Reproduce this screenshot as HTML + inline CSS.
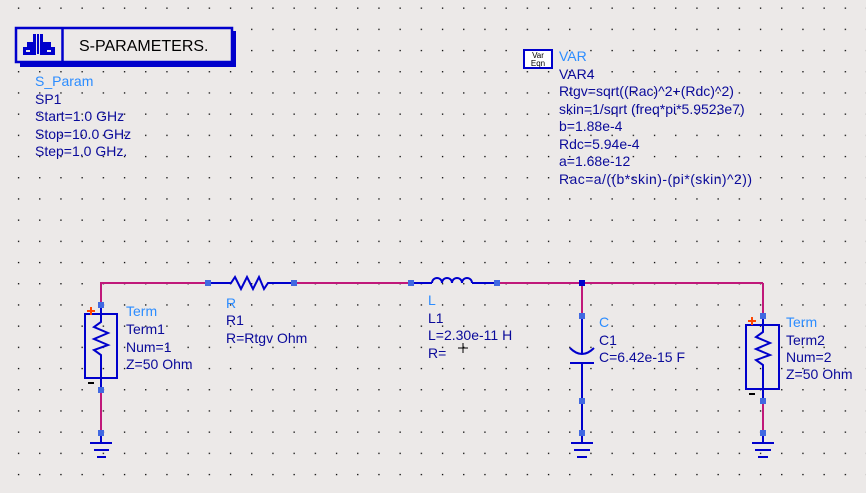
<!DOCTYPE html>
<html><head><meta charset="utf-8"><style>
html,body{margin:0;padding:0;background:#ece9e8;}
svg{display:block}
text{font-family:"Liberation Sans",Arial,sans-serif;font-size:14px;}
.d{fill:#0a0a9a}.l{fill:#2b8cff}
</style></head><body>
<svg width="866" height="493" viewBox="0 0 866 493" xmlns="http://www.w3.org/2000/svg">
<defs><pattern id="g" x="17.9" y="7.5" width="21.2" height="21.2" patternUnits="userSpaceOnUse"><rect x="0" y="0" width="1.3" height="1.3" fill="#000"/></pattern></defs>
<rect width="866" height="493" fill="#ece9e8"/>
<rect width="866" height="493" fill="url(#g)"/>

<!-- S-PARAMETERS box -->
<rect x="20" y="31" width="216" height="36" fill="#0000cc"/>
<rect x="16" y="28" width="216" height="34" fill="#ece9e8" stroke="#0000cc" stroke-width="2.5"/>
<line x1="62.5" y1="28" x2="62.5" y2="62" stroke="#0000cc" stroke-width="2.5"/>
<g fill="#0000cc">
<rect x="33" y="34" width="10" height="8"/><rect x="27" y="42" width="24" height="10"/>
<rect x="23" y="47" width="32" height="8"/>
<rect x="36" y="33" width="4" height="22" fill="#ece9e8"/>
<rect x="37" y="34" width="2" height="20"/>
<rect x="26" y="50" width="4" height="2" fill="#ece9e8"/><rect x="47" y="50" width="4" height="2" fill="#ece9e8"/>
</g>
<text x="79" y="51" style="font-size:16px" fill="#000">S-PARAMETERS.</text>
<text x="35" y="86" class="l">S_Param</text>
<text x="35" y="104" class="d">SP1</text>
<text x="35" y="121" class="d">Start=1.0 GHz</text>
<text x="35" y="139" class="d">Stop=10.0 GHz</text>
<text x="35" y="156" class="d">Step=1.0 GHz.</text>

<!-- VAR -->
<rect x="524" y="50" width="28" height="18" fill="#fff" stroke="#0000cc" stroke-width="2"/>
<text x="538" y="58" text-anchor="middle" style="font-size:8px" fill="#000">Var</text>
<text x="538" y="66" text-anchor="middle" style="font-size:8px" fill="#000">Eqn</text>
<text x="559" y="61" class="l">VAR</text>
<text x="559" y="79" class="d">VAR4</text>
<text x="559" y="96" class="d">Rtgv=sqrt((Rac)^2+(Rdc)^2)</text>
<text x="559" y="114" class="d">skin=1/sqrt (freq*pi*5.9523e7)</text>
<text x="559" y="131" class="d">b=1.88e-4</text>
<text x="559" y="149" class="d">Rdc=5.94e-4</text>
<text x="559" y="166" class="d">a=1.68e-12</text>
<text x="559" y="184" class="d" textLength="193" lengthAdjust="spacing">Rac=a/((b*skin)-(pi*(skin)^2))</text>

<!-- wires -->
<g stroke="#c0187a" stroke-width="2" fill="none">
<polyline points="101,305 101,283 208,283"/>
<line x1="294" y1="283" x2="411" y2="283"/>
<line x1="497" y1="283" x2="763" y2="283"/>
<line x1="763" y1="283" x2="763" y2="316"/>
<line x1="582" y1="283" x2="582" y2="316"/>
<line x1="101" y1="390" x2="101" y2="433"/>
<line x1="763" y1="401" x2="763" y2="433"/>
<line x1="582" y1="401" x2="582" y2="433"/>
</g>

<!-- components -->
<g stroke="#0000cc" stroke-width="2" fill="none">
<rect x="85" y="314" width="32" height="64"/>
<polyline points="101,305 101,322 94,327 108,333 94,339 108,345 94,350 101,355 101,390"/>
<line x1="90" y1="443" x2="112" y2="443"/><line x1="94" y1="450" x2="109" y2="450"/><line x1="97" y1="457" x2="106" y2="457"/>
<line x1="101" y1="433" x2="101" y2="443"/>
<polyline points="208,283 231,283 235,277 241,289 247,277 253,289 259,277 264,289 268,283 294,283"/>
<line x1="411" y1="283" x2="432" y2="283"/>
<path d="M432,283 a5,5 0 0 1 10,0 a5,5 0 0 1 10,0 a5,5 0 0 1 10,0 a5,5 0 0 1 10,0"/>
<line x1="472" y1="283" x2="497" y2="283"/>
<line x1="582" y1="316" x2="582" y2="353"/>
<path d="M570,348 Q582,360 594,348"/>
<line x1="570" y1="363" x2="594" y2="363"/>
<line x1="582" y1="363" x2="582" y2="433"/>
<line x1="582" y1="433" x2="582" y2="443"/>
<line x1="571" y1="443" x2="593" y2="443"/><line x1="574" y1="450" x2="590" y2="450"/><line x1="577" y1="457" x2="587" y2="457"/>
<rect x="746" y="325" width="33" height="64"/>
<polyline points="763,316 763,332 756,337 770,343 756,349 770,355 756,360 763,365 763,401"/>
<line x1="763" y1="433" x2="763" y2="443"/>
<line x1="752" y1="443" x2="774" y2="443"/><line x1="755" y1="450" x2="771" y2="450"/><line x1="758" y1="457" x2="768" y2="457"/>
</g>
<g fill="#4169e1">
<rect x="98" y="302" width="6" height="6"/><rect x="98" y="387" width="6" height="6"/><rect x="98" y="430" width="6" height="6"/>
<rect x="205" y="280" width="6" height="6"/><rect x="291" y="280" width="6" height="6"/>
<rect x="408" y="280" width="6" height="6"/><rect x="494" y="280" width="6" height="6"/>
<rect x="579" y="280" width="6" height="6" fill="#0000cc"/>
<rect x="579" y="313" width="6" height="6"/><rect x="579" y="398" width="6" height="6"/><rect x="579" y="430" width="6" height="6"/>
<rect x="760" y="313" width="6" height="6"/><rect x="760" y="398" width="6" height="6"/><rect x="760" y="430" width="6" height="6"/>
</g>
<g stroke="#ff4500" stroke-width="2">
<line x1="87" y1="311" x2="95" y2="311"/><line x1="91" y1="307" x2="91" y2="315"/>
<line x1="748" y1="321" x2="756" y2="321"/><line x1="752" y1="317" x2="752" y2="325"/>
</g>
<g stroke="#000" stroke-width="2">
<line x1="88" y1="383" x2="94" y2="383"/><line x1="749" y1="394" x2="755" y2="394"/>
</g>
<g stroke="#000" stroke-width="1"><line x1="463" y1="343" x2="463" y2="353"/><line x1="458" y1="348" x2="468" y2="348"/></g>

<text x="126" y="316" class="l">Term</text>
<text x="126" y="334" class="d">Term1</text>
<text x="126" y="352" class="d">Num=1</text>
<text x="126" y="369" class="d">Z=50 Ohm</text>
<text x="226" y="308" class="l">R</text>
<text x="226" y="325" class="d">R1</text>
<text x="226" y="343" class="d">R=Rtgv Ohm</text>
<text x="428" y="305" class="l">L</text>
<text x="428" y="323" class="d">L1</text>
<text x="428" y="340" class="d">L=2.30e-11 H</text>
<text x="428" y="358" class="d">R=</text>
<text x="599" y="327" class="l">C</text>
<text x="599" y="345" class="d">C1</text>
<text x="599" y="362" class="d">C=6.42e-15 F</text>
<text x="786" y="327" class="l">Term</text>
<text x="786" y="345" class="d">Term2</text>
<text x="786" y="362" class="d">Num=2</text>
<text x="786" y="379" class="d">Z=50 Ohm</text>
</svg>
</body></html>
